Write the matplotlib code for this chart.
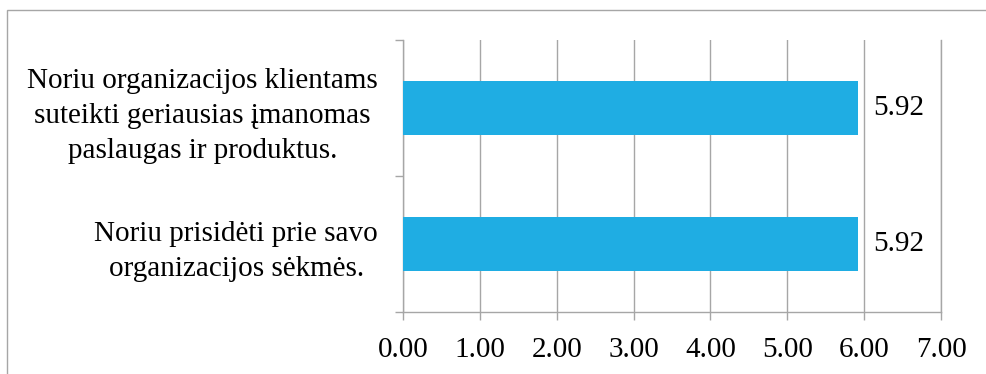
import matplotlib.pyplot as plt
from matplotlib.patches import Rectangle

statements = [
    "Noriu prisidėti prie savo\norganizacijos sėkmės.",
    "Noriu organizacijos klientams\nsuteikti geriausias įmanomas\npaslaugas ir produktus.",
]
scores = [5.92, 5.92]
x_ticks = [0, 1, 2, 3, 4, 5, 6, 7]

plt.rcParams['font.family'] = ['Liberation Serif', 'DejaVu Serif']
grey = '#a6a6a6'
fs = 21

fig = plt.figure(figsize=(9.87, 3.74), dpi=100)
ax = fig.add_axes([0.4083, 0.1658, 0.5451, 0.7272])

pos = list(range(len(statements)))
bars = ax.barh(pos, scores, height=0.4, color='#1fade3', zorder=3)
for b, v in zip(bars, scores):
    ax.text(b.get_width() + 0.2, b.get_y() + b.get_height() / 2, f"{v:.2f}",
            va='center', ha='left', fontsize=fs, color='black')

ax.set_xlim(0, 7)
ax.set_ylim(-0.5, len(statements) - 0.5)
ax.set_xticks(x_ticks)
ax.set_xticklabels([f"{t:.2f}" for t in x_ticks], fontsize=fs)
ax.grid(axis='x', color=grey, linewidth=1, zorder=0)
ax.axvline(7, color=grey, linewidth=1, zorder=0, clip_on=False)

# category boundaries carry the ticks, labels sit at the bar centres
ax.set_yticks([p - 0.5 for p in pos] + [pos[-1] + 0.5])
ax.set_yticklabels([])
ax.set_yticks(pos, minor=True)
ax.set_yticklabels(statements, minor=True, fontsize=fs, ha='right',
                   multialignment='center', linespacing=1.45)
ax.tick_params(axis='y', which='minor', length=0, pad=18)
ax.tick_params(axis='y', which='major', length=6, color=grey, width=1)
ax.tick_params(axis='x', length=6, color=grey, width=1, pad=12)

for s in ['top', 'right']:
    ax.spines[s].set_visible(False)
for s in ['left', 'bottom']:
    ax.spines[s].set_color(grey)
    ax.spines[s].set_linewidth(1)

fig.patches.append(Rectangle((7 / 987, -0.1), 1.2, 1 - 10 / 374 + 0.1,
                             transform=fig.transFigure, fill=False,
                             edgecolor=grey, linewidth=1))

fig.savefig('out.png', dpi=100)
